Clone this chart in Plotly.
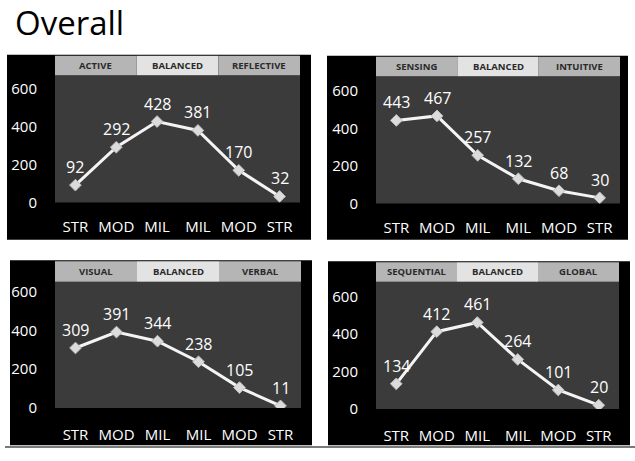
import plotly.graph_objects as go

W, H = 635, 461

categories = ["STR", "MOD", "MIL", "MIL", "MOD", "STR"]
y_ticks = [0, 200, 400, 600]

active_reflective = [92, 292, 428, 381, 170, 32]
sensing_intuitive = [443, 467, 257, 132, 68, 30]
visual_verbal = [309, 391, 344, 238, 105, 11]
sequential_global = [134, 412, 461, 264, 101, 20]

bands_1 = ["ACTIVE", "BALANCED", "REFLECTIVE"]
bands_2 = ["SENSING", "BALANCED", "INTUITIVE"]
bands_3 = ["VISUAL", "BALANCED", "VERBAL"]
bands_4 = ["SEQUENTIAL", "BALANCED", "GLOBAL"]

title_text = "Overall"

FONT = "Open Sans"

# panel geometry in pixels: plot area (x0, x1, ytop, ybottom), black box (x0, x1, y0, y1), y max, x tick gap
panels = [
    dict(data=active_reflective, bands=bands_1, plot=(55, 300, 76, 206), box=(7, 311, 55, 244), ymax=672, xgap=10),
    dict(data=sensing_intuitive, bands=bands_2, plot=(376, 620, 77, 207), box=(327, 628, 56, 244), ymax=678, xgap=10),
    dict(data=visual_verbal, bands=bands_3, plot=(55, 301, 287, 416), box=(10, 312, 265, 454), ymax=650, xgap=13),
    dict(data=sequential_global, bands=bands_4, plot=(376, 619, 287, 417), box=(328, 630, 266, 454), ymax=678, xgap=13),
]

fig = go.Figure()
shapes = []
annotations = []


def px(x):
    return x / W


def py(y):
    return 1 - y / H


for i, p in enumerate(panels):
    k = "" if i == 0 else str(i + 1)
    xa, ya = "x" + k, "y" + k
    x0, x1, yt, yb = p["plot"]
    bx0, bx1, by0, by1 = p["box"]
    band_top = by0 + 1
    # black box
    shapes.append(dict(type="rect", xref="paper", yref="paper", x0=px(bx0), x1=px(bx1),
                       y0=py(by1), y1=py(by0), fillcolor="black", line=dict(width=0), layer="below"))
    # plot area background
    shapes.append(dict(type="rect", xref="paper", yref="paper", x0=px(x0), x1=px(x1),
                       y0=py(yb), y1=py(yt), fillcolor="#3b3b3b", line=dict(width=0), layer="below"))
    xs = list(range(len(categories)))
    fig.add_trace(go.Scatter(x=xs, y=p["data"], mode="lines+markers", xaxis=xa, yaxis=ya,
                             line=dict(color="#f4f4f4", width=3),
                             marker=dict(symbol="diamond", size=9, color="#dcdcdc",
                                         line=dict(color="#bdbdbd", width=1)),
                             showlegend=False, hoverinfo="skip"))
    for xv, yv in zip(xs, p["data"]):
        annotations.append(dict(x=xv, y=yv, xref=xa, yref=ya, text=str(yv), showarrow=False,
                                xanchor="center", yanchor="middle",
                                yshift=18, font=dict(family=FONT, size=16, color="white")))
    fills = ["#b5b5b5", "#e3e3e3", "#b5b5b5"]
    seg = (x1 - x0) / 3
    for j, lab in enumerate(p["bands"]):
        sx0 = x0 + j * seg
        sx1 = x0 + (j + 1) * seg
        shapes.append(dict(type="rect", xref="paper", yref="paper",
                           x0=px(sx0), x1=px(sx1), y0=py(yt), y1=py(band_top),
                           fillcolor=fills[j], line=dict(width=0)))
        annotations.append(dict(x=px((sx0 + sx1) / 2), y=py((yt + band_top) / 2), xref="paper", yref="paper",
                                xanchor="center", yanchor="middle",
                                text="<b>" + lab + "</b>", showarrow=False,
                                font=dict(family=FONT, size=9.5, color="#2a2a2a")))
    fig.layout["xaxis" + k] = dict(domain=[px(x0), px(x1)], range=[-0.5, len(categories) - 0.5],
                                   tickvals=xs, ticktext=categories, showgrid=False, zeroline=False,
                                   ticks="outside", ticklen=p["xgap"], tickcolor="rgba(0,0,0,0)",
                                   tickfont=dict(family=FONT, size=15, color="white"),
                                   anchor=ya, fixedrange=True, showline=False)
    fig.layout["yaxis" + k] = dict(domain=[py(yb), py(yt)], range=[0, p["ymax"]],
                                   tickvals=y_ticks, showgrid=False, zeroline=False,
                                   ticks="outside", ticklen=14, tickcolor="rgba(0,0,0,0)",
                                   tickfont=dict(family=FONT, size=15, color="white"),
                                   anchor=xa, fixedrange=True, showline=False)

# bottom rule
shapes.append(dict(type="line", xref="paper", yref="paper", x0=px(5), x1=1, y0=py(456), y1=py(456),
                   line=dict(color="#7a7a7a", width=2)))

annotations.append(dict(x=px(13), y=py(22), xref="paper", yref="paper", text=title_text,
                        xanchor="left", yanchor="middle", showarrow=False,
                        font=dict(family=FONT, size=33, color="black")))

fig.update_layout(width=W, height=H, margin=dict(l=0, r=0, t=0, b=0),
                  paper_bgcolor="white", plot_bgcolor="rgba(0,0,0,0)",
                  shapes=shapes, annotations=annotations)

fig.write_html("out.html", config={"displayModeBar": False},
               post_script="document.body.style.margin='0';document.body.style.overflow='hidden';")
